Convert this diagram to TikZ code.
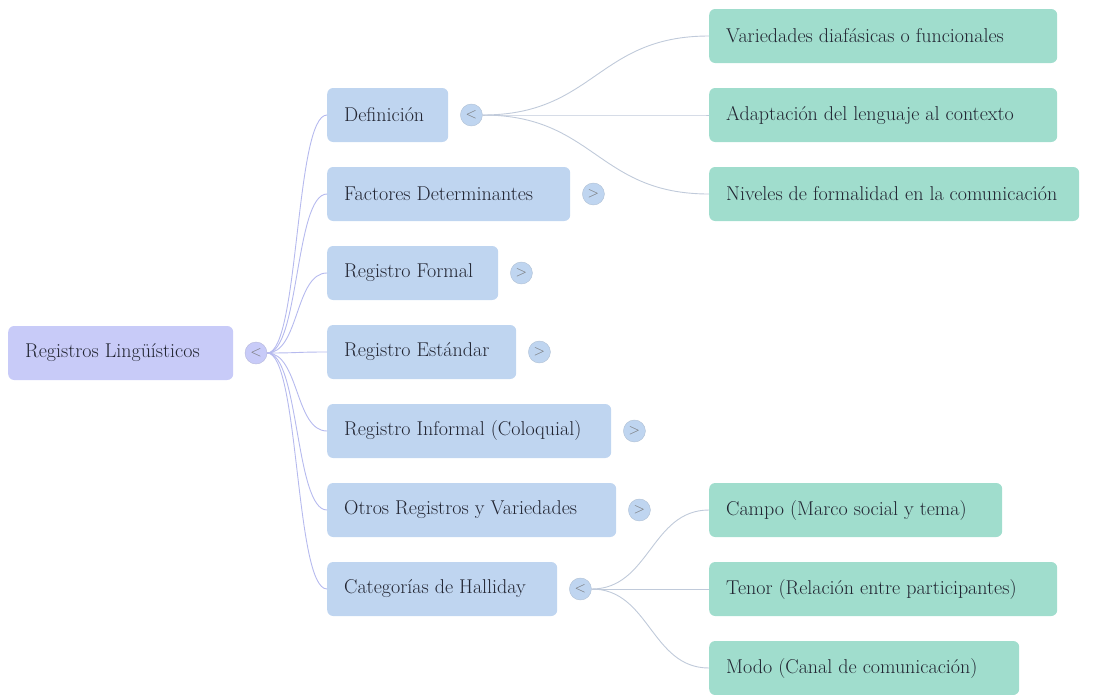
\documentclass[tikz,border=0pt]{standalone}
\usepackage{fontspec}
\usepackage{tikz}
\usetikzlibrary{calc}
\tikzset{>=stealth}
\definecolor{rootfill}{RGB}{200,203,248}
\definecolor{topicfill}{RGB}{191,213,240}
\definecolor{leaffill}{RGB}{160,221,205}
\definecolor{rootline}{RGB}{182,186,238}
\definecolor{leafline}{RGB}{192,202,218}
\definecolor{ink}{RGB}{34,37,50}
\tikzset{
  card/.style={rectangle, rounded corners=6pt, anchor=west, minimum height=54pt,
    inner xsep=17pt, inner ysep=0pt, text=ink, font=\fontsize{20}{23}\selectfont},
  rootcard/.style={card, fill=rootfill},
  topiccard/.style={card, fill=topicfill},
  leafcard/.style={card, fill=leaffill},
  knob/.style={circle, minimum size=22pt, inner sep=0pt, draw=#1!75!gray,
    fill=#1, text=black!55, font=\fontsize{15}{15}\selectfont},
  rootwire/.style={draw=rootline, line width=.9pt},
  leafwire/.style={draw=leafline, line width=.9pt}
}
\newcommand*{\card}[5]
  {\node[#1] (#2) at (#3) {\makebox[#4pt][l]{#5}}}
\newcommand*{\wire}[4]
  {\draw[#1] (#2) .. controls +(#4,0) and +(-#4,0) .. (#3)}

\begin{document}
\begin{tikzpicture}[x=1pt,y=-1pt]
\useasboundingbox (0,0) rectangle (1100,694);
\card{rootcard}{root}{8,353}{191}{Registros Lingüísticos};
\node[knob=rootfill] (kroot) at (256,353) {<};
\foreach \y/\name/\w/\txt/\s in {115/def/87/Definición/<,194/fac/209/Factores Determinantes/>,273/formal/137/Registro Formal/>,352/std/155/Registro Estándar/>,431/inf/250/Registro Informal (Coloquial)/>,510/otros/255/Otros Registros y Variedades/>,589/hal/196/Categorías de Halliday/<} {
  \card{topiccard}{\name}{327,\y}{\w}{\txt};
  \wire{rootwire}{kroot.east}{\name.west}{32};
  \node[knob=topicfill] (k\name) at ($(\name.east)+(23,0)$) {\s};
}
\foreach \y/\name/\w/\txt in {36/var/314/Variedades diafásicas o funcionales,115/ada/314/Adaptación del lenguaje al contexto,194/niv/336/Niveles de formalidad en la comunicación} {
  \card{leafcard}{\name}{709,\y}{\w}{\txt};
  \wire{leafwire}{kdef.east}{\name.west}{112};
}
\foreach \y/\name/\w/\txt in {510/campo/259/Campo (Marco social y tema),589/tenor/314/Tenor (Relación entre participantes),668/modo/276/Modo (Canal de comunicación)} {
  \card{leafcard}{\name}{709,\y}{\w}{\txt};
  \wire{leafwire}{khal.east}{\name.west}{58};
}
\end{tikzpicture}
\end{document}
